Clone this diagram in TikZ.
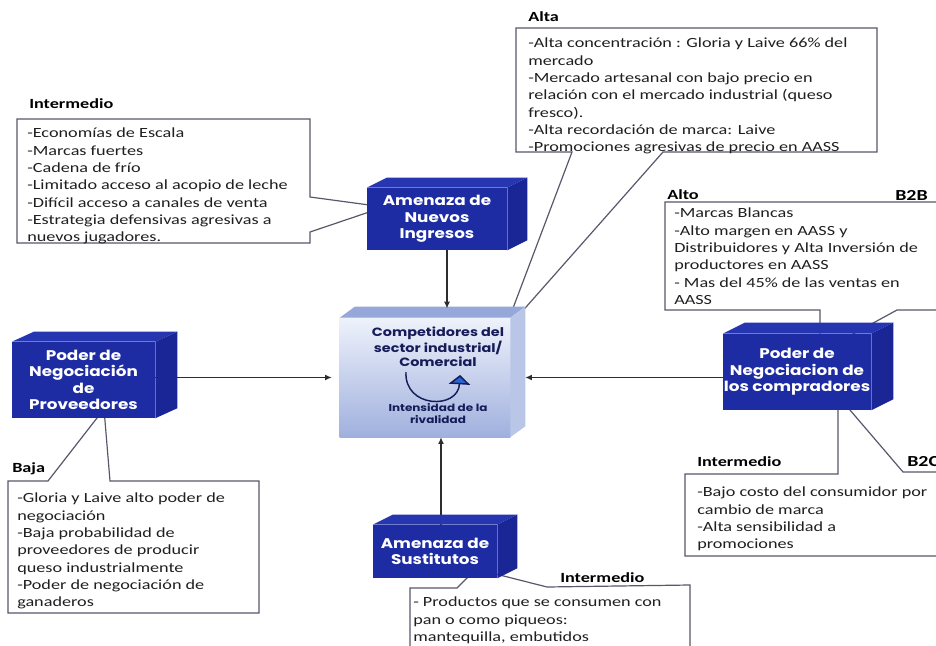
\documentclass[tikz,border=0pt]{standalone}
\usepackage{fontspec}
\setmainfont{Carlito}[FakeStretch=1.3]
\newfontfamily\cubefont{Poppins}[FakeStretch=1.2]
\usetikzlibrary{arrows.meta}

\pgfdeclarelayer{back}
\pgfdeclarelayer{faces}
\pgfsetlayers{back,faces,main}

\definecolor{cubeblue}{RGB}{30,44,164}
\definecolor{cubetopc}{RGB}{38,54,176}
\definecolor{cubesidec}{RGB}{26,38,150}
\definecolor{calloutline}{RGB}{88,88,108}
\definecolor{navytext}{RGB}{22,28,88}
\definecolor{compfaceTop}{RGB}{238,242,251}
\definecolor{compfaceBot}{RGB}{160,176,222}
\definecolor{comptopc}{RGB}{150,168,218}
\definecolor{compsidec}{RGB}{185,198,232}
\definecolor{swirlfill}{RGB}{40,100,210}
\definecolor{arrowgray}{RGB}{45,45,45}

\tikzset{
  bodytext/.style={anchor=north west, align=left, inner sep=0pt,
    font=\fontsize{10.5}{13}\selectfont, text=black!88, execute at begin node=\strut},
  ratelabel/.style={anchor=west, inner sep=0pt, font=\fontsize{10.5}{13}\selectfont\bfseries},
  segmentlabel/.style={anchor=west, inner sep=0pt, font=\fontsize{11.5}{13}\selectfont\bfseries},
  callout/.style={draw=calloutline, line width=0.9pt, fill=white, line join=miter},
  cubenode/.style={inner sep=0pt, align=center, text=white,
    font=\cubefont\fontsize{10.5}{12.4}\selectfont\bfseries},
  flow/.style={draw=arrowgray, line width=0.9pt, -{Latex[length=5pt,width=4.5pt]}},
}

% front face = the node itself; top and side faces offset by (dx,dy)
\newcommand\blockfaces[6]{%
  \fill[#4] (#1.south west) rectangle (#1.north east);
  \fill[#5] (#1.north west) -- ++(#2,-#3) -- ([shift={(#2,-#3)}]#1.north east) -- (#1.north east) -- cycle;
  \fill[#6] (#1.north east) -- ++(#2,-#3) -- ([shift={(#2,-#3)}]#1.south east) -- (#1.south east) -- cycle;
}

\begin{document}
\begin{tikzpicture}[x=0.75pt,y=-0.75pt]
\useasboundingbox (0,0) rectangle (936,646);

% ---------- the five forces ----------
\node[cubenode, minimum width=105pt, minimum height=46.5pt] (nuevos) at (437,219) {Amenaza de\\Nuevos\\Ingresos};
\node[cubenode, minimum width=107.25pt, minimum height=57pt] (prov) at (83.5,380) {Poder de\\Negociación\\de\\Proveedores};
\node[cubenode, minimum width=111pt, minimum height=57pt] (buyers) at (797,372) {Poder de\\Negociacion de\\los compradores};
\node[cubenode, minimum width=93pt, minimum height=39.75pt] (sust) at (435,551.5) {Amenaza de\\Sustitutos};
\node[inner sep=0pt, minimum width=127.5pt, minimum height=89.25pt] (comp) at (425,377.5) {};

\node[inner sep=0pt, align=center, text=navytext,
  font=\cubefont\fontsize{9}{10.5}\selectfont\bfseries] (comptitle) at (438,347)
  {Competidores del\\sector industrial/\\Comercial};
\node[inner sep=0pt, align=center, text=navytext,
  font=\cubefont\fontsize{7.5}{9}\selectfont\bfseries] (rivalry) at (438,414)
  {Intensidad de la\\rivalidad};
\draw[draw=navytext, line width=1.1pt, -{Triangle[width=16pt,length=7pt,fill=swirlfill]}]
  (406,372) .. controls (404,408) and (458,410) .. (460,375);

% ---------- rating labels ----------
\node[ratelabel] (lblNuevos) at (29,104) {Intermedio};
\node[ratelabel] (lblAlta) at (528,17) {Alta};
\node[ratelabel] (lblAlto) at (667,195) {Alto};
\node[segmentlabel] (lblB2B) at (895,195) {B2B};
\node[ratelabel] (lblBaja) at (12,469) {Baja};
\node[ratelabel] (lblSust) at (560,578) {Intermedio};
\node[ratelabel] (lblB2C) at (697,462) {Intermedio};
\node[segmentlabel] (lblB2Cseg) at (907,462) {B2C};

% ---------- callout texts ----------
\node[bodytext] (txtNuevos) at (27,128) {-Economías de Escala\\-Marcas fuertes\\-Cadena de frío\\-Limitado acceso al acopio de leche\\-Difícil acceso a canales de venta\\-Estrategia defensivas agresivas a\\nuevos jugadores.};
\node[bodytext] (txtAlta) at (528,38) {-Alta concentración : Gloria y Laive 66\% del\\mercado\\-Mercado artesanal con bajo precio en\\relación con el mercado industrial (queso\\fresco).\\-Alta recordación de marca: Laive\\-Promociones agresivas de precio en AASS};
\node[bodytext] (txtB2B) at (674,208) {-Marcas Blancas\\-Alto margen en AASS y\\Distribuidores y Alta Inversión de\\productores en AASS\\- Mas del 45\% de las ventas en\\AASS};
\node[bodytext] (txtBaja) at (17,493) {-Gloria y Laive alto poder de\\negociación\\-Baja probabilidad de\\proveedores de producir\\queso industrialmente\\-Poder de negociación de\\ganaderos};
\node[bodytext] (txtSust) at (413,597) {- Productos que se consumen con\\pan o como piqueos:\\mantequilla, embutidos};
\node[bodytext] (txtB2C) at (697,487) {-Bajo costo del consumidor por\\cambio de marca\\-Alta sensibilidad a\\promociones};

% ---------- callout frames ----------
\begin{pgfonlayer}{back}
  \fill[white] (0,0) rectangle (936,646);
  \draw[callout] (17,119) -- (310,119) -- (310,197) -- (384,207) -- (310,232) -- (310,243) -- (17,243) -- cycle;
  \draw[callout] (516,28) -- (877,28) -- (877,152) -- (663,152) -- (504,332) -- (572,152) -- (516,152) -- cycle;
  \draw[callout] (665,202) -- (950,202) -- (950,310) -- (897,310) -- (820,352) -- (820,310) -- (665,310) -- cycle;
  \draw[callout] (8,481) -- (48,481) -- (104,409) -- (110,481) -- (259,481) -- (259,613) -- (8,613) -- cycle;
  \draw[callout] (410,660) -- (410,588) -- (457,588) -- (476,569) -- (547,587) -- (690,585) -- (690,660) -- cycle;
  \draw[callout] (685,474) -- (838,474) -- (838,396) -- (903,472) -- (950,472) -- (950,556) -- (685,556) -- cycle;
\end{pgfonlayer}

% ---------- blocks and arrows ----------
\begin{pgfonlayer}{faces}
  \blockfaces{comp}{15}{11}{top color=compfaceTop, bottom color=compfaceBot}{comptopc}{compsidec}

  \coordinate (nuevosFoot) at ([xshift=7.5pt]nuevos.south);
  \coordinate (compTopIn) at ([yshift=7pt]comp.north);
  \coordinate (compSide) at ([xshift=11.25pt]comp.east);
  \coordinate (sustHead) at ([xshift=4.5pt]sust.north);
  \draw[flow] (nuevosFoot) -- (nuevosFoot |- compTopIn);
  \draw[flow, shorten >=6pt] (prov.east |- comp.west) -- (comp.west);
  \draw[flow] (buyers.west |- compSide) -- (compSide);
  \draw[flow] (sustHead) -- (sustHead |- comp.south);

  \blockfaces{nuevos}{20}{10}{cubeblue}{cubetopc}{cubesidec}
  \blockfaces{prov}{22}{10}{cubeblue}{cubetopc}{cubesidec}
  \blockfaces{buyers}{22}{11}{cubeblue}{cubetopc}{cubesidec}
  \blockfaces{sust}{20}{10}{cubeblue}{cubetopc}{cubesidec}
\end{pgfonlayer}
\end{tikzpicture}
\end{document}
